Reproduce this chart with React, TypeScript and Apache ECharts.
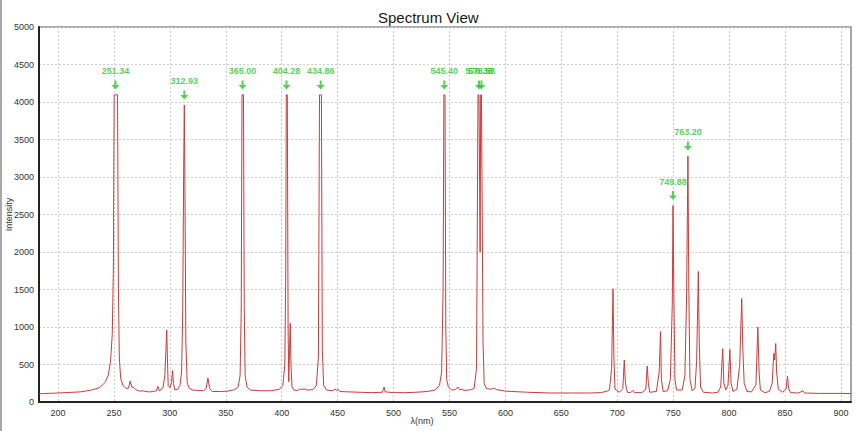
import React, { useEffect, useRef } from "react";
import * as echarts from "echarts";

// Spectrum samples: wavelength (nm) and detector counts
const wavelengths: number[] = [
  183, 200, 220, 230, 237, 242, 245, 247, 248.5, 249.5, 250.2, 251.34, 253.2, 254, 254.8, 256, 258, 261, 263, 264.5,
  266, 268, 270, 273, 276, 278, 282, 285, 288, 289.2, 290.5, 292, 294, 295.5, 296.5, 297.2, 297.8, 298.5, 300, 301.5,
  302.4, 303.2, 304.5, 307, 309, 310.5, 311.5, 312.3, 312.93, 313.5, 314.3, 315.5, 317, 320, 330, 332.5, 334, 335.5, 338, 345,
  352, 358, 361, 362.8, 363.8, 364.5, 365.0, 365.8, 366.5, 367.3, 369, 372, 380, 390, 398, 401, 402.8, 403.6, 404.1, 404.28,
  405, 405.7, 406.3, 407, 407.6, 408.3, 409.2, 411, 414, 416, 418, 420, 423, 428, 431, 432.8, 433.8, 434.86, 435.5, 436.3,
  437.5, 440, 446, 447.5, 449, 450.5, 452, 460, 470, 480, 490, 491.5, 492.5, 500, 510, 520, 530, 537, 541, 543,
  544.3, 545, 545.4, 546, 546.7, 547.5, 549, 552, 555, 557.5, 559, 561, 563, 568, 572, 574.2, 575.5, 576.38, 576.8, 577.4,
  577.9, 578.58, 579.2, 580, 581, 583, 587, 590, 592, 600, 620, 640, 660, 675, 685, 690, 693, 695, 696.2, 697,
  698, 702, 705, 706.3, 707.3, 709, 712, 714, 715.5, 722, 725.5, 726.8, 727.8, 729, 735, 737.5, 738.7, 739.5, 741, 745,
  747.5, 749.2, 749.88, 750.8, 751.6, 753, 758, 760.5, 762, 763.2, 764, 765, 767, 769.5, 771, 772.5, 773.3, 774.5, 777, 785,
  790, 792.5, 794.3, 795.3, 797, 799, 800.7, 801.8, 803.5, 807, 809.5, 811.3, 812.3, 813.5, 816, 820, 824, 825.7, 826.8, 828,
  832, 836, 838.5, 840, 840.7, 841.7, 842.5, 844, 848, 851, 852.2, 853.2, 855, 862, 866, 867.5, 880, 900, 909,
];

const intensities: number[] = [
  110, 120, 135, 160, 190, 260, 360, 550, 900, 1800, 4095, 4095, 4095, 1500, 600, 320, 220, 180, 185, 280,
  200, 190, 160, 145, 150, 140, 135, 140, 150, 210, 150, 160, 200, 350, 700, 960, 600, 220, 190, 260,
  420, 250, 160, 170, 220, 400, 1200, 3000, 3960, 2800, 800, 260, 190, 160, 150, 180, 320, 180, 140, 140,
  145, 165, 200, 350, 1200, 4095, 4095, 4095, 1300, 350, 200, 160, 150, 150, 170, 220, 500, 1700, 4095, 4095,
  4095, 1000, 270, 700, 1050, 500, 200, 160, 150, 175, 165, 175, 160, 165, 220, 600, 4095, 4095, 4095, 700,
  220, 160, 150, 175, 155, 170, 140, 135, 130, 125, 130, 200, 135, 125, 125, 130, 140, 160, 220, 400,
  1500, 4095, 4095, 4095, 1000, 300, 200, 160, 165, 200, 165, 170, 155, 160, 180, 450, 4095, 4095, 4095, 2000,
  4095, 4095, 4095, 800, 250, 180, 170, 185, 165, 145, 130, 120, 120, 120, 125, 140, 160, 450, 1510, 600,
  170, 130, 180, 560, 250, 130, 125, 155, 125, 125, 170, 480, 250, 130, 140, 400, 940, 300, 140, 150,
  300, 1300, 2620, 1200, 300, 160, 160, 350, 1400, 3280, 1500, 300, 150, 180, 550, 1740, 800, 200, 130, 120,
  130, 200, 710, 250, 160, 220, 700, 250, 140, 170, 500, 1380, 700, 250, 140, 135, 230, 1000, 400, 160,
  125, 140, 250, 650, 560, 780, 400, 170, 130, 180, 345, 180, 125, 120, 150, 120, 115, 115, 112,
];

// Annotated peak positions and the counts at their tops
const peakWavelengths: number[] = [251.34, 312.93, 365.0, 404.28, 434.86, 545.4, 576.38, 578.58, 749.88, 763.2];
const peakIntensities: number[] = [4095, 3960, 4095, 4095, 4095, 4095, 4095, 4095, 2620, 3280];

const xTickValues: number[] = [200, 250, 300, 350, 400, 450, 500, 550, 600, 650, 700, 750, 800, 850, 900];

const PEAK_GREEN = "#2cc42c";
const LINE_RED = "#cc3b3b";
const ARROW_PATH = "path://M3,0 L5,0 L5,4.5 L8,4.5 L4,9 L0,4.5 L3,4.5 Z";

export default function App() {
  const ref = useRef<HTMLDivElement>(null);

  useEffect(() => {
    if (!ref.current) return;
    const chart = echarts.init(ref.current, undefined, { renderer: "svg" });

    const spectrum = wavelengths.map((w, i) => [w, intensities[i]]);
    const peaks = peakWavelengths.map((w, i) => [w, peakIntensities[i]]);

    chart.setOption({
      animation: false,
      backgroundColor: "#ffffff",
      textStyle: { fontFamily: "Liberation Sans, Arial, sans-serif" },
      title: {
        text: "Spectrum View",
        left: 373,
        top: 5,
        textStyle: { fontSize: 15, fontWeight: "normal", color: "#1a1a1a", fontFamily: "Liberation Sans" },
      },
      graphic: [
        {
          type: "rect",
          left: 0,
          top: 0,
          shape: { width: 2, height: 431 },
          style: { fill: "#a8a8a8" },
          silent: true,
        },
      ],
      grid: {
        left: 39,
        top: 27,
        right: 5,
        bottom: 29,
        containLabel: false,
        outerBoundsMode: "none",
        show: true,
        borderColor: "#8a8a8a",
        borderWidth: 1.5,
        backgroundColor: "transparent",
      },
      xAxis: {
        type: "value",
        min: 183,
        max: 909,
        name: "λ(nm)",
        nameLocation: "middle",
        nameGap: 14,
        nameMoveOverlap: false,
        nameTextStyle: {
          fontSize: 9,
          color: "#333",
          fontFamily: "Liberation Sans",
          padding: [0, 46, 0, 0],
        },
        axisLine: { show: true, onZero: false, lineStyle: { color: "#222", width: 2 } },
        axisTick: { show: false, customValues: xTickValues },
        axisLabel: {
          customValues: xTickValues,
          fontSize: 9,
          color: "#333",
          margin: 6,
          fontFamily: "Liberation Sans",
        },
        splitLine: { show: true, lineStyle: { color: "#cfcfcf", type: [2, 2], width: 1 } },
      },
      yAxis: {
        type: "value",
        min: 0,
        max: 5000,
        interval: 500,
        name: "Intensity",
        nameLocation: "middle",
        nameGap: 26,
        nameMoveOverlap: false,
        nameRotate: 90,
        nameTextStyle: { fontSize: 9, color: "#333", fontFamily: "Liberation Sans" },
        axisLine: { show: true, lineStyle: { color: "#222", width: 2 } },
        axisTick: { show: false },
        axisLabel: {
          fontSize: 9,
          color: "#333",
          margin: 5,
          fontFamily: "Liberation Sans",
          formatter: (v: number) => String(v),
        },
        splitLine: { show: true, lineStyle: { color: "#cfcfcf", type: [2, 2], width: 1 } },
      },
      series: [
        {
          type: "line",
          data: spectrum,
          showSymbol: false,
          symbol: "none",
          smooth: false,
          lineStyle: { color: LINE_RED, width: 1 },
          z: 3,
        },
        {
          type: "scatter",
          data: peaks,
          symbol: ARROW_PATH,
          symbolSize: [8, 9],
          symbolOffset: [0, -10],
          itemStyle: { color: PEAK_GREEN },
          z: 5,
        },
        {
          type: "scatter",
          data: peaks,
          symbolSize: 0,
          itemStyle: { color: "transparent" },
          label: {
            show: true,
            position: "inside",
            offset: [0, -24],
            formatter: (p: any) => Number(p.value[0]).toFixed(2),
            color: PEAK_GREEN,
            fontSize: 9,
            fontWeight: "bold",
            fontFamily: "Liberation Sans",
          },
          z: 6,
        },
      ],
    });

    return () => chart.dispose();
  }, []);

  return <div ref={ref} style={{ width: 856, height: 431, position: "absolute", left: 0, top: 0 }} />;
}
